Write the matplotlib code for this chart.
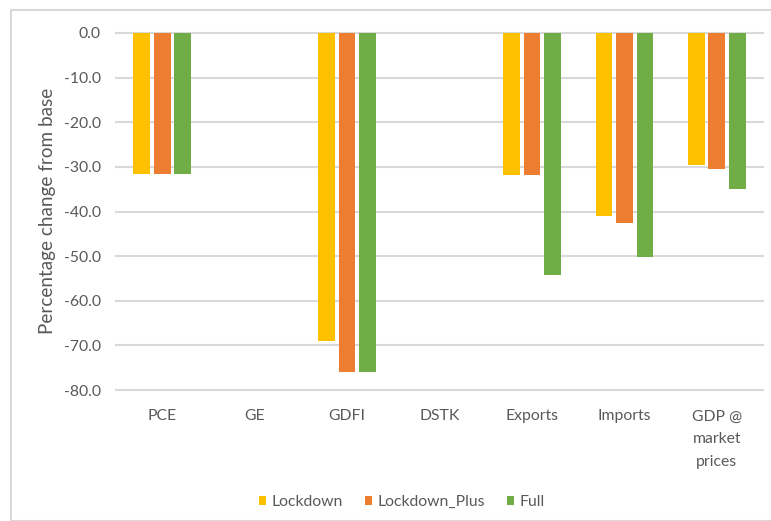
import matplotlib
matplotlib.use("Agg")
import matplotlib.pyplot as plt
import numpy as np
from matplotlib.patches import Rectangle

categories = ["PCE", "GE", "GDFI", "DSTK", "Exports", "Imports", "GDP @\nmarket\nprices"]
lockdown = [-31.6, 0.0, -69.1, 0.0, -31.8, -41.0, -29.5]
lockdown_plus = [-31.6, 0.0, -76.0, 0.0, -31.8, -42.6, -30.5]
full = [-31.6, 0.0, -76.0, 0.0, -54.3, -50.3, -35.0]
series_names = ["Lockdown", "Lockdown_Plus", "Full"]
colors = ["#FFC000", "#ED7D31", "#70AD47"]
yticks = [0, -10, -20, -30, -40, -50, -60, -70, -80]

plt.rcParams["font.family"] = ["Lato", "DejaVu Sans"]
text_color = "#595959"
grid_color = "#D9D9D9"
fs = 11.3

fig = plt.figure(figsize=(7.71, 5.21), dpi=100)
ax = fig.add_axes([116 / 771, 1 - 390 / 521, (763 - 116) / 771, (390 - 33) / 521])

x = np.arange(len(categories))
width = 0.18
step = 0.222
for i, (vals, name, col) in enumerate(zip([lockdown, lockdown_plus, full], series_names, colors)):
    ax.bar(x + (i - 1) * step, vals, width, color=col, label=name,
           linewidth=0, zorder=3)

ax.set_xlim(-0.5, len(categories) - 0.5)
ax.set_ylim(-80, 0)
ax.set_yticks(yticks)
ax.set_yticklabels([f"{v:.1f}" for v in yticks])
for t in yticks:
    ax.axhline(t, color=grid_color, linewidth=1.5, zorder=1, clip_on=False)

ax.set_xticks(x)
ax.set_xticklabels(categories, linespacing=1.8, va="top")
ax.tick_params(axis="x", length=0, pad=14, labelsize=fs, labelcolor=text_color)
ax.tick_params(axis="y", length=0, pad=11, labelsize=fs, labelcolor=text_color)
for s in ax.spines.values():
    s.set_visible(False)

fig.text(47.5 / 771, 1 - 211 / 521, "Percentage change from base", rotation=90,
         ha="center", va="center", fontsize=13.6, color=text_color)

fig.legend(loc="center", bbox_to_anchor=(401.5 / 771, 1 - 502 / 521), ncol=3,
           frameon=False, handlelength=0.5, handleheight=0.5, handletextpad=0.3,
           columnspacing=1.4, fontsize=fs, labelcolor=text_color)

fig.patches.append(Rectangle((11 / 771, 0.0), 1.0, 1 - 10 / 521, transform=fig.transFigure,
                             fill=False, edgecolor=grid_color, linewidth=1.5))

fig.savefig("out.png", dpi=100)
